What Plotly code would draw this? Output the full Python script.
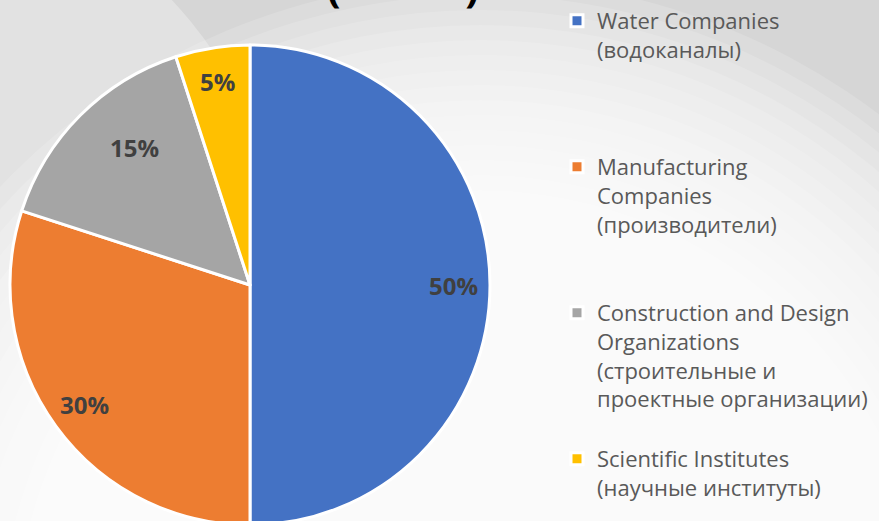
import math
import plotly.graph_objects as go

# ---------------- data ----------------
categories = [
    "Water Companies<br>(водоканалы)",
    "Manufacturing<br>Companies<br>(производители)",
    "Construction and Design<br>Organizations<br>(строительные и<br>проектные организации)",
    "Scientific Institutes<br>(научные институты)",
]
shares = [50, 30, 15, 5]
share_labels = ["50%", "30%", "15%", "5%"]
colors = ["#4472C4", "#ED7D31", "#A5A5A5", "#FFC000"]

# blank lines used to spread legend entries evenly (Excel-like legend spacing)
legend_padding = [3, 2, 1, 0]

# ---------------- geometry (pixels) ----------------
W, H = 879, 528          # slightly taller than the window: pie bottom is cut off
PIE_LEFT, PIE_TOP, PIE_SIZE = 10, 45, 480
R = PIE_SIZE / 2
CX, CY = PIE_LEFT + R, PIE_TOP + R
label_radius = [0.85, 0.85, 0.75, 0.86]
label_angle_shift = [0, 0, 5, 0]


def px(x):
    return x / W


def py(y):
    return 1 - y / H


legend_names = [c + "<br>\u00a0" * p for c, p in zip(categories, legend_padding)]

fig = go.Figure(
    go.Pie(
        labels=legend_names,
        values=shares,
        sort=False,
        direction="clockwise",
        rotation=0,
        marker=dict(colors=colors, line=dict(color="white", width=3)),
        textinfo="none",
        hoverinfo="label+percent",
        domain=dict(x=[px(PIE_LEFT), px(PIE_LEFT + PIE_SIZE)],
                    y=[py(PIE_TOP + PIE_SIZE), py(PIE_TOP)]),
    )
)

# data labels placed along each slice's bisector
total = sum(shares)
cum = 0
annotations = []
for v, lab, rf, sh in zip(shares, share_labels, label_radius, label_angle_shift):
    theta = 2 * math.pi * (cum + v / 2) / total + math.radians(sh)
    cum += v
    r = rf * R
    x = CX + r * math.sin(theta)
    y = CY - r * math.cos(theta)
    annotations.append(dict(
        x=px(x), y=py(y), xref="paper", yref="paper", showarrow=False,
        text="<b>" + lab + "</b>",
        font=dict(family="Open Sans", size=24, color="#404040"),
        xanchor="center", yanchor="middle",
    ))

# title, mostly cut off above the visible area
annotations.append(dict(
    x=px(403), y=1, xref="paper", yref="paper", showarrow=False,
    text="<b>(" + "\u00a0" * 12 + ")</b>",
    font=dict(family="Open Sans", size=40, color="#000000"),
    xanchor="center", yanchor="middle", yshift=14,
))

# background: grey with soft radial lightening
shapes = []
gcx, gcy = 480, 640
n = 25
for i in range(n):
    rr = 660 - i * (660 - 300) / (n - 1)
    shapes.append(dict(
        type="circle", xref="paper", yref="paper", layer="below",
        x0=px(gcx - rr), x1=px(gcx + rr), y0=py(gcy + rr), y1=py(gcy - rr),
        fillcolor="white", opacity=0.15, line=dict(width=0),
    ))
lcx, lcy, lr = -150, 300, 440
shapes.append(dict(
    type="circle", xref="paper", yref="paper", layer="below",
    x0=px(lcx - lr), x1=px(lcx + lr), y0=py(lcy + lr), y1=py(lcy - lr),
    fillcolor="white", opacity=0.3, line=dict(width=0),
))

fig.update_layout(
    width=W, height=H,
    margin=dict(l=0, r=0, t=0, b=0),
    paper_bgcolor="#d6d6d6",
    plot_bgcolor="rgba(0,0,0,0)",
    shapes=shapes,
    annotations=annotations,
    showlegend=True,
    legend=dict(
        x=px(557), y=1, xanchor="left", yanchor="top",
        valign="top", maxheight=1,
        bgcolor="rgba(0,0,0,0)",
        font=dict(family="Open Sans", size=22, color="#595959"),
    ),
)

fig.write_html(
    "out.html",
    config={"displayModeBar": False},
    post_script="document.body.style.margin='0';document.body.style.overflow='hidden';",
)
